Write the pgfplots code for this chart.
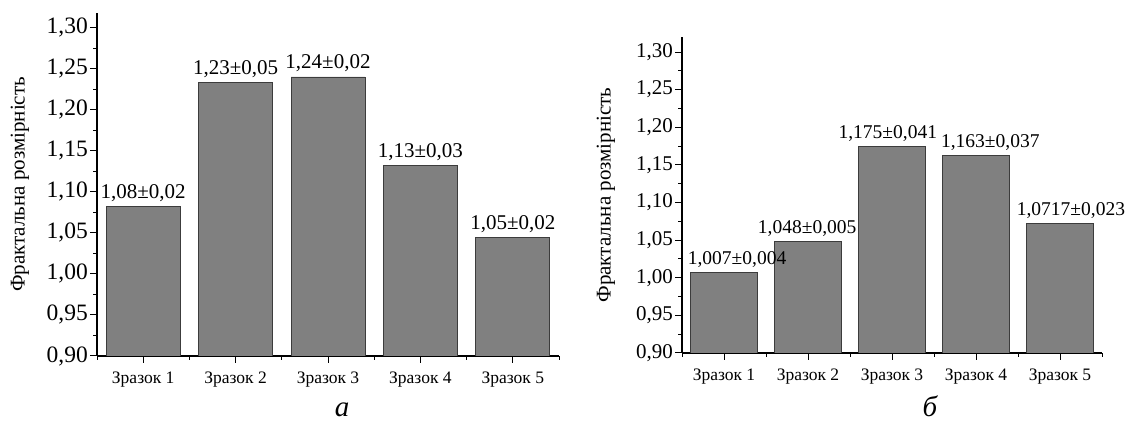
\documentclass[border=0pt]{standalone}
\usepackage{pgfplots}
\pgfplotsset{compat=1.18}
\usepackage{pgfplotstable}
\usepackage{fontspec}
\setmainfont{Liberation Serif}
\definecolor{barfill}{RGB}{128,128,128}
\definecolor{bardraw}{RGB}{60,60,60}

\pgfplotstableread{
x lx y label
1 1 1.082 1,08±0,02
2 2 1.233 1,23±0,05
3 3 1.240 1,24±0,02
4 4 1.132 1,13±0,03
5 5 1.045 1,05±0,02
}\dataA
\pgfplotstableread{
x lx y label
1 1.155 1.007 1,007±0,004
2 1.99 1.048 1,048±0,005
3 2.95 1.175 1,175±0,041
4 4.17 1.163 1,163±0,037
5 5.13 1.0717 1,0717±0,023
}\dataB

\pgfplotsset{
  panel/.style={
    scale only axis,
    axis lines=left,
    axis line style={-, line width=1.2pt, black},
    xmin=0.5, xmax=5.5, ymin=0.9,
    ytick={0.90,0.95,1.00,1.05,1.10,1.15,1.20,1.25,1.30},
    minor ytick={0.925,0.975,1.025,1.075,1.125,1.175,1.225,1.275,1.325},
    xtick={1,2,3,4,5},
    xticklabels={Зразок 1,Зразок 2,Зразок 3,Зразок 4,Зразок 5},
    minor xtick={0.5,1.5,2.5,3.5,4.5,5.5},
    tick align=outside,
    tick style={black, line width=1pt},
    major tick length=7pt, minor tick length=4pt,
    /pgf/number format/use comma,
    /pgf/number format/fixed,
    /pgf/number format/fixed zerofill,
    /pgf/number format/precision=2,
    /pgf/number format/assume math mode=true,
    xticklabel style={font=\fontsize{17.5}{20}\selectfont, yshift=-5pt},
    ylabel={Фрактальна розмірність},
  },
  bars/.style={ybar, bar width=0.8, fill=barfill, draw=bardraw, line width=0.8pt},
}

\begin{document}
\begin{tikzpicture}
\useasboundingbox (0,0) rectangle (1127pt,425pt);
% left panel
\begin{axis}[panel,
  at={(97pt,69pt)}, anchor=south west,
  width=462pt, height=343pt,
  ymax=1.318,
  yticklabel style={font=\fontsize{23.5}{27}\selectfont, inner sep=2pt},
  every axis y label/.style={at={(axis description cs:-0.167,0.5)}, rotate=90, anchor=center, font=\fontsize{21}{25}\selectfont},
]
\addplot[bars] table[x=x,y=y]{\dataA};
\addplot[draw=none, nodes near coords, point meta=explicit symbolic,
  nodes near coords style={font=\fontsize{21}{25}\selectfont, anchor=base, yshift=8pt, inner sep=0pt}]
  table[x=lx,y=y,meta=label]{\dataA};
\end{axis}
% right panel
\begin{axis}[panel,
  at={(682pt,72pt)}, anchor=south west,
  width=420pt, height=316pt,
  ymax=1.32,
  yticklabel style={font=\fontsize{21}{24}\selectfont, inner sep=2pt},
  every axis y label/.style={at={(axis description cs:-0.181,0.5)}, rotate=90, anchor=center, font=\fontsize{21}{25}\selectfont},
]
\addplot[bars] table[x=x,y=y]{\dataB};
\addplot[draw=none, nodes near coords, point meta=explicit symbolic,
  nodes near coords style={font=\fontsize{19.5}{23}\selectfont, anchor=base, yshift=8pt, inner sep=0pt}]
  table[x=lx,y=y,meta=label]{\dataB};
\end{axis}
\node[font=\fontsize{29}{34}\selectfont\itshape, anchor=base, inner sep=0pt] at (342pt,8pt) {а};
\node[font=\fontsize{29}{34}\selectfont\itshape, anchor=base, inner sep=0pt] at (930pt,8pt) {б};
\end{tikzpicture}
\end{document}
